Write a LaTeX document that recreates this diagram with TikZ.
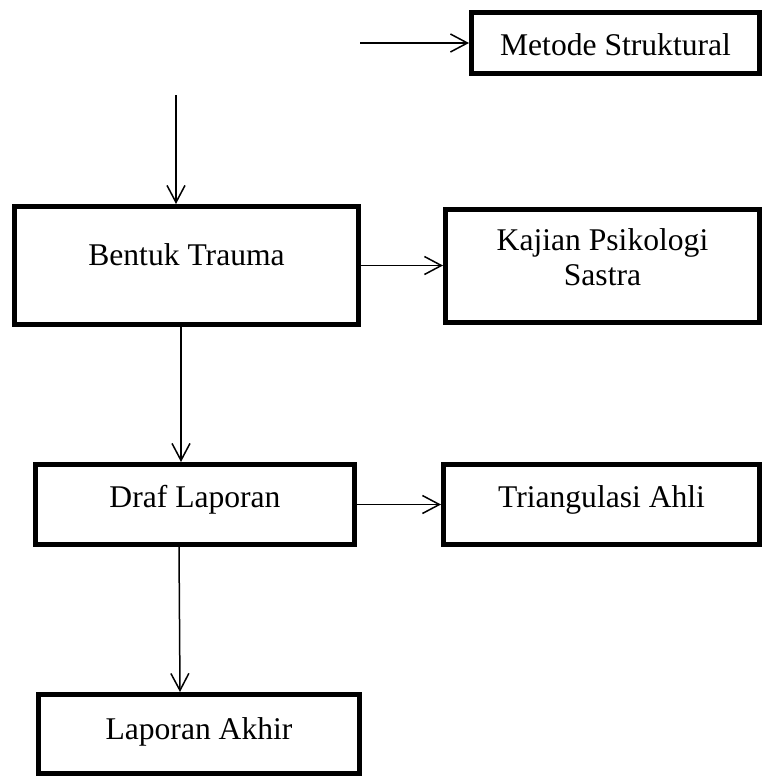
\documentclass[tikz,border=0pt]{standalone}
\usepackage{fontspec}
\setmainfont{Liberation Serif}
\usetikzlibrary{arrows.meta}

\begin{document}
\begin{tikzpicture}[x=0.5pt, y=-0.5pt,
  kotak/.style={draw, line width=2.5pt, inner sep=0pt, fill=white,
    font=\fontsize{15.8}{17.5}\selectfont, text height=8pt},
  panah/.style={-{Straight Barb[length=8.5pt, width=9pt]}, line width=0.75pt}]
    \useasboundingbox (0,0) rectangle (763,776);
    \node (metode) at (615.5,43) [kotak, minimum width=144pt, minimum height=30.5pt,
          text height=12.5pt, text depth=0pt] {Metode Struktural};
    \node (bentuk) at (186.5,265.5) [kotak, minimum width=172pt, minimum height=59pt,
          text depth=8pt] {Bentuk Trauma};
    \node (kajian) at (602.5,266) [kotak, minimum width=157pt, minimum height=56.5pt,
          align=center, text height=22pt, text depth=3pt] {Kajian Psikologi\\Sastra};
    \node (draf) at (195,504.5) [kotak, minimum width=159.5pt, minimum height=40pt,
          text depth=5pt] {Draf Laporan};
    \node (triang) at (601.5,504.5) [kotak, minimum width=158pt, minimum height=40pt,
          text depth=5pt] {Triangulasi Ahli};
    \node (akhir) at (199,734) [kotak, minimum width=160.5pt, minimum height=39.5pt,
          text depth=3pt] {Laporan Akhir};

    % ujung bebas
    \coordinate (mulai) at (360,43);
    \coordinate (atas) at (176,95);

    \draw[panah] (mulai) -- (mulai -| metode.west);
    \draw[panah] (atas) -- (atas |- bentuk.north);
    \draw[panah] (bentuk.east) -- (bentuk.east -| kajian.west);
    \draw[panah] ([xshift=-2.75pt]bentuk.south) -- ([xshift=-2.75pt]bentuk.south |- draf.north);
    \draw[panah] (draf.east) -- (triang.west);
    \draw[panah] ([xshift=-8pt]draf.south) -- ([xshift=-9.5pt]akhir.north);
  \end{tikzpicture}
\end{document}
